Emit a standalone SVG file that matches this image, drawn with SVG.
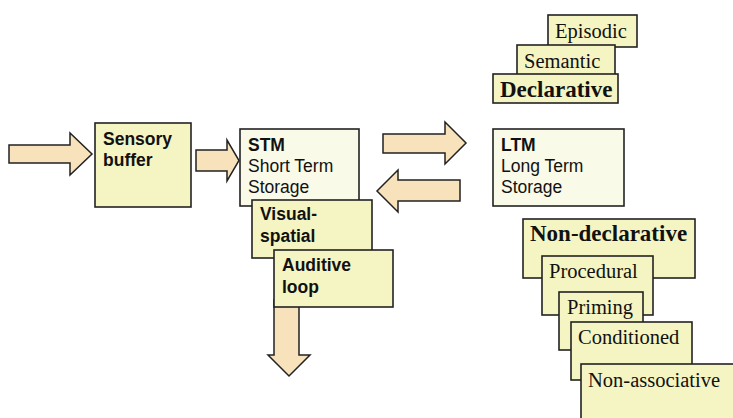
<svg xmlns="http://www.w3.org/2000/svg" width="733" height="418" viewBox="0 0 733 418">
<style>
.box{fill:#f5f5c3;stroke:#222;stroke-width:1.6}
.lbox{fill:#fafae8;stroke:#222;stroke-width:1.6}
.arr{fill:#f7e2bb;stroke:#222;stroke-width:1.5;stroke-linejoin:miter}
.s{font-family:"Liberation Sans",Arial,sans-serif;font-size:17.5px;fill:#111}
.sb{font-family:"Liberation Sans",Arial,sans-serif;font-size:17.5px;font-weight:bold;fill:#111}
.r{font-family:"Liberation Serif","Times New Roman",serif;font-size:20.5px;fill:#111}
.rb{font-family:"Liberation Serif","Times New Roman",serif;font-size:23px;font-weight:bold;fill:#111}
</style>
<rect width="733" height="418" fill="#fff"/>
<g id="connectors">
<polygon class="arr" points="9,145 70,145 70,133 92,154 70,175 70,163 9,163"/>
<polygon class="arr" points="196,150 227,150 227,140 239,160.5 227,181 227,171 196,171"/>
<polygon class="arr" points="383,134 445,134 445,122 466,143 445,164 445,153 383,153"/>
<polygon class="arr" points="460,180 398,180 398,170 377,191 398,212 398,201 460,201"/>
<polygon class="arr" points="274,300 299,300 299,355 310,355 289,376 268,355 274,355"/>
</g>
<g id="sensory">
<rect class="box" x="95" y="123" width="96" height="84"/>
<text class="sb" x="103" y="145">Sensory</text>
<text class="sb" x="103" y="166">buffer</text>
</g>
<g id="stm">
<rect class="lbox" x="240" y="129" width="119" height="77"/>
<text class="sb" x="248" y="151">STM</text>
<text class="s" x="248" y="172">Short Term</text>
<text class="s" x="248" y="193">Storage</text>
</g>
<g id="visual">
<rect class="box" x="252" y="200" width="120" height="58"/>
<text class="sb" x="260" y="220">Visual-</text>
<text class="sb" x="260" y="242">spatial</text>
</g>
<g id="auditive">
<rect class="box" x="274" y="250" width="119" height="57"/>
<text class="sb" x="282" y="271">Auditive</text>
<text class="sb" x="282" y="293">loop</text>
</g>
<g id="ltm">
<rect class="lbox" x="493" y="129" width="131" height="77"/>
<text class="sb" x="501" y="151">LTM</text>
<text class="s" x="501" y="172">Long Term</text>
<text class="s" x="501" y="193">Storage</text>
</g>
<g id="episodic">
<rect class="box" x="548" y="15" width="89" height="32"/>
<text class="r" x="555" y="38">Episodic</text>
</g>
<g id="semantic">
<rect class="box" x="517" y="45" width="98" height="31"/>
<text class="r" x="524" y="68">Semantic</text>
</g>
<g id="declarative">
<rect class="box" x="493" y="74" width="125" height="29"/>
<text class="rb" x="500" y="97">Declarative</text>
</g>
<g id="nondeclarative">
<rect class="box" x="523" y="219" width="172" height="59"/>
<text class="rb" x="530" y="241">Non-declarative</text>
</g>
<g id="procedural">
<rect class="box" x="542" y="256" width="111" height="59"/>
<text class="r" x="549" y="278">Procedural</text>
</g>
<g id="priming">
<rect class="box" x="559" y="292" width="84" height="58"/>
<text class="r" x="567" y="314">Priming</text>
</g>
<g id="conditioned">
<rect class="box" x="571" y="322" width="121" height="58"/>
<text class="r" x="578" y="344">Conditioned</text>
</g>
<g id="nonassociative">
<rect class="box" x="581" y="364" width="160" height="60"/>
<text class="r" x="588" y="387">Non-associative</text>
</g>
</svg>
